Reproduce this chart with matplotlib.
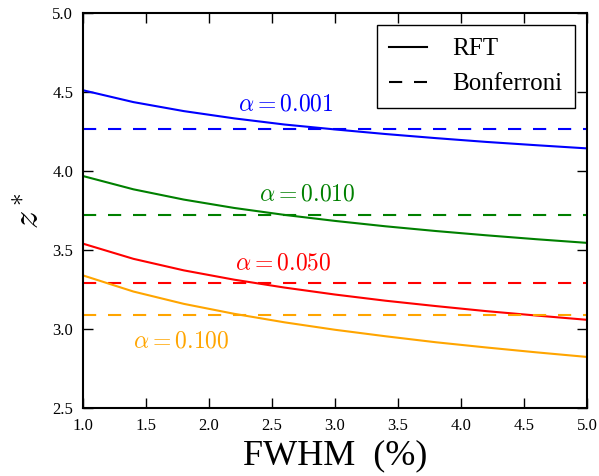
import matplotlib
matplotlib.use("Agg")
import matplotlib.pyplot as plt
import numpy as np

# ---------- data ----------
fwhm = [1.0, 1.4, 1.8, 2.2, 2.6, 3.0, 3.4, 3.8, 4.2, 4.6, 5.0]
alphas = ["0.001", "0.010", "0.050", "0.100"]
colors = ["b", "g", "r", "orange"]
rft = [
    [4.511, 4.436, 4.379, 4.333, 4.294, 4.263, 4.234, 4.208, 4.184, 4.163, 4.143],
    [3.968, 3.884, 3.819, 3.766, 3.722, 3.684, 3.650, 3.620, 3.593, 3.568, 3.545],
    [3.540, 3.444, 3.371, 3.312, 3.262, 3.218, 3.179, 3.145, 3.113, 3.085, 3.058],
    [3.339, 3.237, 3.159, 3.096, 3.042, 2.995, 2.954, 2.916, 2.883, 2.852, 2.823],
]
bonferroni = [4.265, 3.719, 3.291, 3.090]
label_xy = [(2.23, 4.42), (2.40, 3.85), (2.21, 3.41), (1.40, 2.92)]

plt.rcParams["font.family"] = ["Liberation Serif", "DejaVu Serif"]
plt.rcParams["mathtext.fontset"] = "cm"
plt.rcParams["lines.scale_dashes"] = False

fig = plt.figure(figsize=(5.99, 4.76), dpi=100)
ax = fig.add_axes([0.1386, 0.1429, 0.8414, 0.8298])

dash = (9.5, 8.5)
for a, c, y, b, (tx, ty) in zip(alphas, colors, rft, bonferroni, label_xy):
    ax.plot(fwhm, y, color=c, lw=1.5)
    ax.plot([fwhm[0], fwhm[-1]], [b, b], color=c, lw=1.5, dashes=dash)
    ax.text(tx, ty, r"$\alpha=%s$" % a, color=c, fontsize=17, ha="left", va="center")

ax.plot([], [], "k-", lw=1.5, label="RFT")
ax.plot([], [], "k", lw=1.5, dashes=dash, label="Bonferroni")
leg = ax.legend(loc="upper right", fontsize=18, handlelength=1.5, handletextpad=1.0,
                fancybox=False, borderaxespad=0.5, borderpad=0.5, labelspacing=0.5,
                framealpha=1)
leg.get_frame().set_edgecolor("k")

ax.set_xlim(1.0, 5.0)
ax.set_ylim(2.5, 5.0)
ax.set_xticks(np.arange(1.0, 5.01, 0.5))
ax.set_yticks(np.arange(2.5, 5.01, 0.5))
ax.tick_params(direction="in", top=True, right=True, length=7, width=1, labelsize=12, pad=7)
for s in ax.spines.values():
    s.set_linewidth(1.5)
ax.set_xlabel("FWHM  (%)", fontsize=26)
ax.set_ylabel(r"$z^*$", fontsize=26)

fig.savefig("out.png", dpi=100)
